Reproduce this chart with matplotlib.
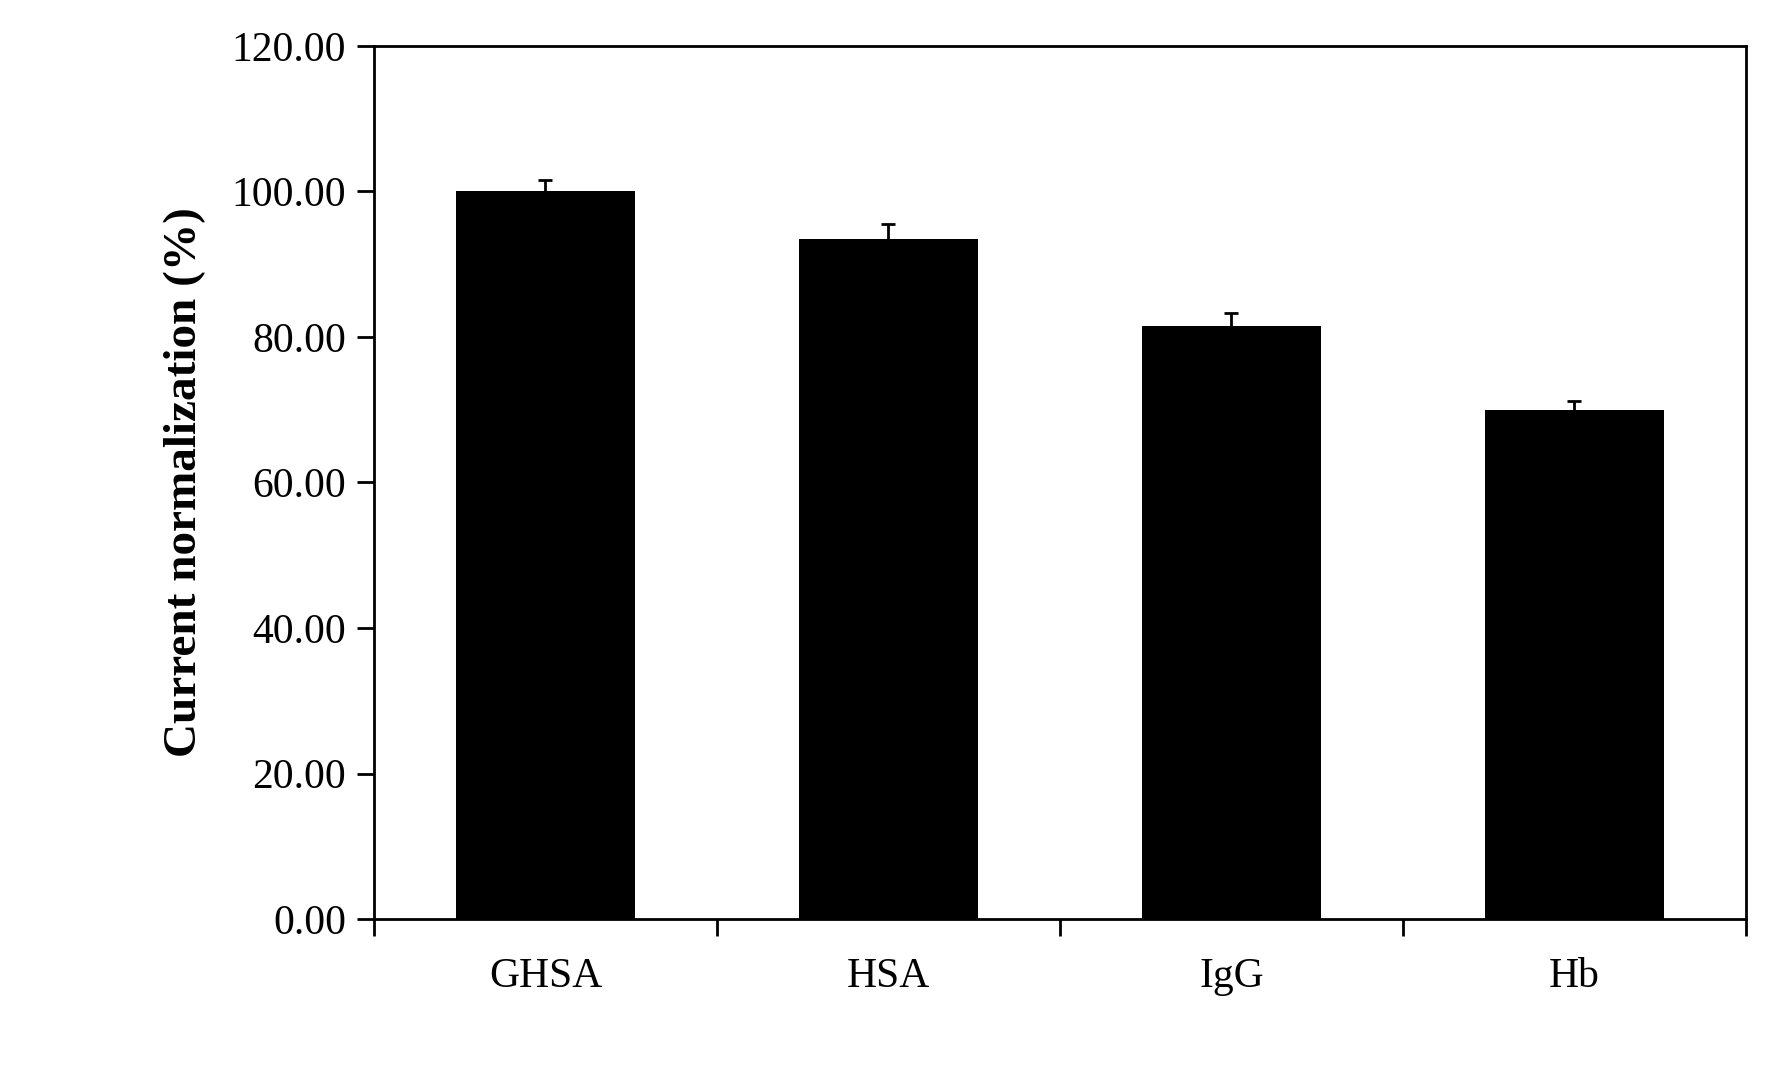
import matplotlib
matplotlib.use("Agg")
import matplotlib.pyplot as plt
import numpy as np

categories = ["GHSA", "HSA", "IgG", "Hb"]
values = [100.0, 93.5, 81.5, 70.0]
errors = [1.5, 2.0, 1.8, 1.2]

plt.rcParams['font.family'] = ['Liberation Serif', 'DejaVu Serif']
fig = plt.figure(figsize=(17.68, 10.65), dpi=100)
ax = fig.add_axes([0.2115, 0.137, 0.776, 0.82])
x = np.arange(len(categories))
ax.bar(x, values, width=0.52, color='black', yerr=errors,
       error_kw=dict(ecolor='black', capsize=5, elinewidth=2, capthick=2))
ax.set_xlim(-0.5, len(categories) - 0.5)
ax.set_ylim(0, 120)
ax.set_yticks(np.arange(0, 121, 20))
ax.set_yticklabels([f"{v:.2f}" for v in np.arange(0, 121, 20)])
ax.set_xticks(x)
ax.set_xticklabels(categories)
ax.set_xticks(np.arange(-0.5, len(categories), 1), minor=True)
ax.tick_params(axis='x', which='major', length=0, pad=28, labelsize=30)
ax.tick_params(axis='x', which='minor', length=12, width=2, direction='out')
ax.tick_params(axis='y', length=12, width=2, direction='out', labelsize=30, pad=8)
for s in ax.spines.values():
    s.set_linewidth(2)
ax.set_ylabel("Current normalization (%)", fontsize=34, fontweight='bold', labelpad=18)
fig.savefig("out.png", dpi=100)
